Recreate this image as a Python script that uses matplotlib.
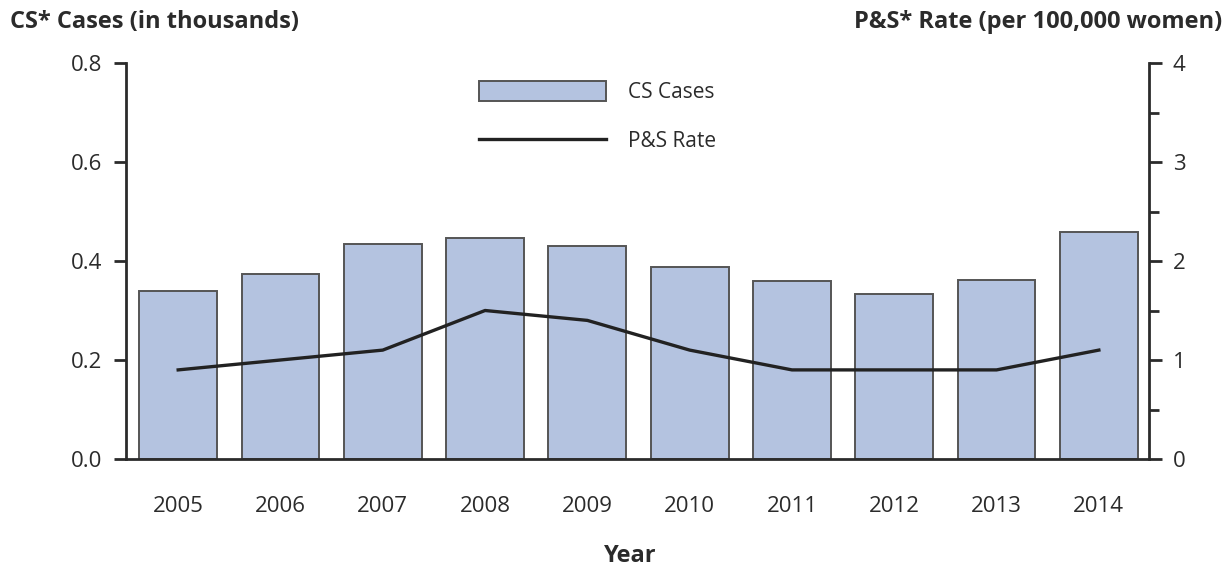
import numpy as np
from matplotlib import pyplot as plt
from matplotlib.ticker import MultipleLocator

## congenital syphilis cases vs P&S syphilis rate among women

years = ['2005', '2006', '2007', '2008', '2009', '2010', '2011', '2012', '2013', '2014']
cs_cases = [0.339, 0.373, 0.434, 0.446, 0.431, 0.387, 0.360, 0.334, 0.361, 0.458]
ps_rate = [0.9, 1.0, 1.1, 1.5, 1.4, 1.1, 0.9, 0.9, 0.9, 1.1]

plt.rcParams['font.family'] = ['Open Sans', 'DejaVu Sans']
dark = '#2b2b2b'

fig = plt.figure(figsize=(12.31, 5.69), dpi=100)
ax = fig.add_axes([126/1231, 1 - 459/569, (1149-126)/1231, (459-63)/569])
ax2 = ax.twinx()

x = np.arange(len(years))
bars = ax.bar(x, cs_cases, width=0.76, color='#b4c3e0', edgecolor='#555555',
			  linewidth=1.4, label='CS Cases', zorder=2)
line, = ax2.plot(x, ps_rate, color='#222222', linewidth=2.4, label='P&S Rate', zorder=3)

ax.set_xlim(-0.51, 9.49)
ax.set_ylim(0, 0.8)
ax2.set_ylim(0, 4)
ax.set_yticks([0, 0.2, 0.4, 0.6, 0.8])
ax.set_yticklabels(['0.0', '0.2', '0.4', '0.6', '0.8'])
ax2.set_yticks([0, 1, 2, 3, 4])
ax2.yaxis.set_minor_locator(MultipleLocator(0.5))
ax.set_xticks(x)
ax.set_xticklabels(years)

for a in (ax, ax2):
	a.spines['top'].set_visible(False)
	for s in a.spines.values():
		s.set_color(dark)
		s.set_linewidth(2)
ax.spines['right'].set_visible(False)
ax2.spines['left'].set_visible(False)
ax2.spines['bottom'].set_visible(False)

ax.tick_params(axis='y', length=9, width=2, color=dark, labelsize=16, labelcolor=dark, pad=8)
ax.tick_params(axis='x', length=0, labelsize=16, labelcolor=dark, pad=27)
ax2.tick_params(axis='y', which='major', length=9, width=2, color=dark, labelsize=16, labelcolor=dark, pad=8)
ax2.tick_params(axis='y', which='minor', length=7, width=2, color=dark)

fig.text(10/1231, 1 - 22/569, 'CS* Cases (in thousands)', fontsize=17, fontweight='bold',
		 color=dark, ha='left', va='center')
fig.text(1222/1231, 1 - 22/569, 'P&S* Rate (per 100,000 women)', fontsize=17, fontweight='bold',
		 color=dark, ha='right', va='center')
fig.text(630/1231, 1 - 556/569, 'Year', fontsize=17, fontweight='bold',
		 color=dark, ha='center', va='center')

leg = ax.legend([bars, line], ['CS Cases', 'P&S Rate'], loc='upper left',
				bbox_to_anchor=(479/1231, 1 - 81/569), bbox_transform=fig.transFigure,
				frameon=False, fontsize=15, handlelength=6.1, handleheight=1.1,
				handletextpad=1.05, labelspacing=1.3, borderpad=0, borderaxespad=0)
for t in leg.get_texts():
	t.set_color(dark)

fig.savefig('out.png', dpi=100)
